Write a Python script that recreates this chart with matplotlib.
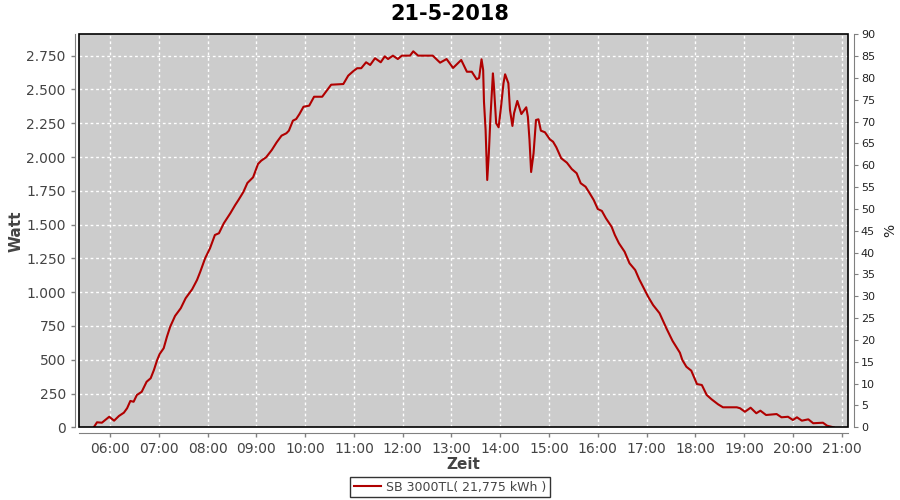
import pandas as pd
import numpy as np
import matplotlib
matplotlib.use('Agg')
import matplotlib.pyplot as plt
import matplotlib.dates as mdates
from matplotlib.ticker import FuncFormatter
from matplotlib.patches import Rectangle

titel = '21-5-2018'
serie_name = 'SB 3000TL( 21,775 kWh )'

zeiten = ['05:40', '05:44', '05:50', '05:59', '06:05', '06:11', '06:17', '06:21', '06:25', '06:29',
          '06:33', '06:39', '06:45', '06:50', '06:54', '06:58', '07:01', '07:06', '07:10', '07:14',
          '07:20', '07:27', '07:33', '07:41', '07:47', '07:51', '07:57', '08:03', '08:09', '08:14',
          '08:20', '08:28', '08:34', '08:38', '08:44', '08:49', '08:56', '09:02', '09:06', '09:12',
          '09:19', '09:25', '09:31', '09:37', '09:40', '09:45', '09:49', '09:53', '09:58', '10:05',
          '10:11', '10:21', '10:26', '10:32', '10:47', '10:53', '10:59', '11:04', '11:09', '11:15',
          '11:20', '11:26', '11:33', '11:38', '11:42', '11:48', '11:54', '11:59', '12:09', '12:13',
          '12:19', '12:37', '12:46', '12:54', '13:02', '13:12', '13:19', '13:25', '13:31', '13:34',
          '13:37', '13:39', '13:40', '13:42', '13:43', '13:44', '13:46', '13:48', '13:51', '13:52',
          '13:55', '13:58', '14:01', '14:04', '14:06', '14:10', '14:12', '14:15', '14:17', '14:21',
          '14:26', '14:32', '14:34', '14:36', '14:38', '14:41', '14:44', '14:47', '14:50', '14:55',
          '15:01', '15:05', '15:09', '15:15', '15:22', '15:28', '15:34', '15:39', '15:45', '15:50',
          '15:55', '16:00', '16:05', '16:10', '16:17', '16:21', '16:26', '16:33', '16:39', '16:46',
          '16:51', '16:56', '17:02', '17:08', '17:16', '17:21', '17:25', '17:32', '17:41', '17:44',
          '17:49', '17:55', '18:02', '18:08', '18:14', '18:20', '18:28', '18:34', '18:51', '18:55',
          '19:01', '19:08', '19:15', '19:20', '19:27', '19:40', '19:46', '19:54', '20:00', '20:05',
          '20:11', '20:19', '20:25', '20:37', '20:42', '20:50']

watt = [0, 37, 34, 78, 49, 84, 108, 141, 195, 189,
        239, 263, 337, 363, 424, 498, 542, 585, 670, 744,
        824, 881, 955, 1021, 1090, 1151, 1251, 1325, 1423, 1436,
        1510, 1584, 1645, 1682, 1741, 1808, 1850, 1948, 1973, 1998,
        2052, 2109, 2158, 2176, 2195, 2269, 2281, 2318, 2372, 2380,
        2446, 2446, 2486, 2535, 2540, 2602, 2634, 2657, 2657, 2701,
        2681, 2731, 2701, 2745, 2725, 2750, 2725, 2750, 2750, 2782,
        2750, 2750, 2698, 2725, 2659, 2718, 2631, 2631, 2575, 2585,
        2723, 2644, 2409, 2200, 2002, 1830, 2030, 2298, 2619, 2546,
        2250, 2220, 2372, 2546, 2612, 2546, 2348, 2230, 2324, 2415,
        2318, 2368, 2298, 2126, 1889, 2028, 2274, 2279, 2195, 2183,
        2131, 2113, 2072, 1991, 1958, 1911, 1880, 1806, 1780, 1732,
        1682, 1615, 1601, 1547, 1484, 1423, 1362, 1299, 1214, 1164,
        1095, 1036, 966, 905, 844, 777, 725, 639, 552, 498,
        448, 419, 320, 313, 239, 207, 170, 148, 148, 141,
        115, 145, 104, 123, 91, 98, 74, 78, 54, 74,
        49, 59, 30, 34, 12, 0]

watt_ticks = list(range(0, 2751, 250))
prozent_ticks = list(range(0, 91, 5))

t = pd.to_datetime(['2018-05-21 ' + z for z in zeiten])

def de_format(v, pos):
    return '{:,.0f}'.format(v).replace(',', '.')

grau = '#444444'
achse = '#808080'

fig = plt.figure(figsize=(9, 5), dpi=100)
ax = fig.add_axes([79 / 900, 1 - 427.3 / 500, (848.3 - 79) / 900, (427.3 - 34.3) / 500])
ax.set_facecolor('#CCCCCC')

ax.plot(t, watt, color='#B00000', lw=1.5, label=serie_name, zorder=3)

ax.set_xlim(pd.Timestamp('2018-05-21 05:21:50'), pd.Timestamp('2018-05-21 21:08:10'))
ax.set_ylim(0, 2908)
ax.set_yticks(watt_ticks)
ax.yaxis.set_major_formatter(FuncFormatter(de_format))
ax.xaxis.set_major_locator(mdates.HourLocator())
ax.xaxis.set_major_formatter(mdates.DateFormatter('%H:%M'))

ax.grid(True, color='white', ls=(0, (2, 2)), lw=1)
ax.set_axisbelow(True)

for s in ['top', 'right']:
    ax.spines[s].set_visible(False)
ax.spines['left'].set_position(('outward', 3))
ax.spines['bottom'].set_position(('outward', 4))
ax.spines['left'].set_color(achse)
ax.spines['bottom'].set_color(achse)
ax.tick_params(axis='both', colors=achse, labelcolor=grau, labelsize=10, length=3, width=1)

ax.add_patch(Rectangle((0, 0), 1, 1, transform=ax.transAxes, fill=False,
                       edgecolor='black', lw=1.2, zorder=5, clip_on=False))

ax2 = ax.twinx()
ax2.set_ylim(0, 90)
ax2.set_yticks(prozent_ticks)
for s in ['top', 'left', 'bottom']:
    ax2.spines[s].set_visible(False)
ax2.spines['right'].set_position(('outward', 4))
ax2.spines['right'].set_color(achse)
ax2.tick_params(axis='y', colors=achse, labelcolor='#222222', labelsize=8, length=3, pad=2)

ax.set_xlabel('Zeit', fontsize=11, color=grau, fontweight='bold', labelpad=1)
ax.set_ylabel('Watt', fontsize=11, color=grau, fontweight='bold', labelpad=2)
ax2.set_ylabel('%', fontsize=10, color='#222222', labelpad=6)

fig.text(0.5, 0.973, titel, ha='center', va='center', fontsize=15, fontweight='bold', color='black')

leg = fig.legend(loc='center', bbox_to_anchor=(0.5, 0.026), fontsize=9, frameon=True,
                 fancybox=False, handlelength=2.2, handletextpad=0.4, borderpad=0.3,
                 labelcolor=grau)
leg.get_frame().set_edgecolor('black')
leg.get_frame().set_linewidth(1)

fig.savefig('out.png', dpi=100)
